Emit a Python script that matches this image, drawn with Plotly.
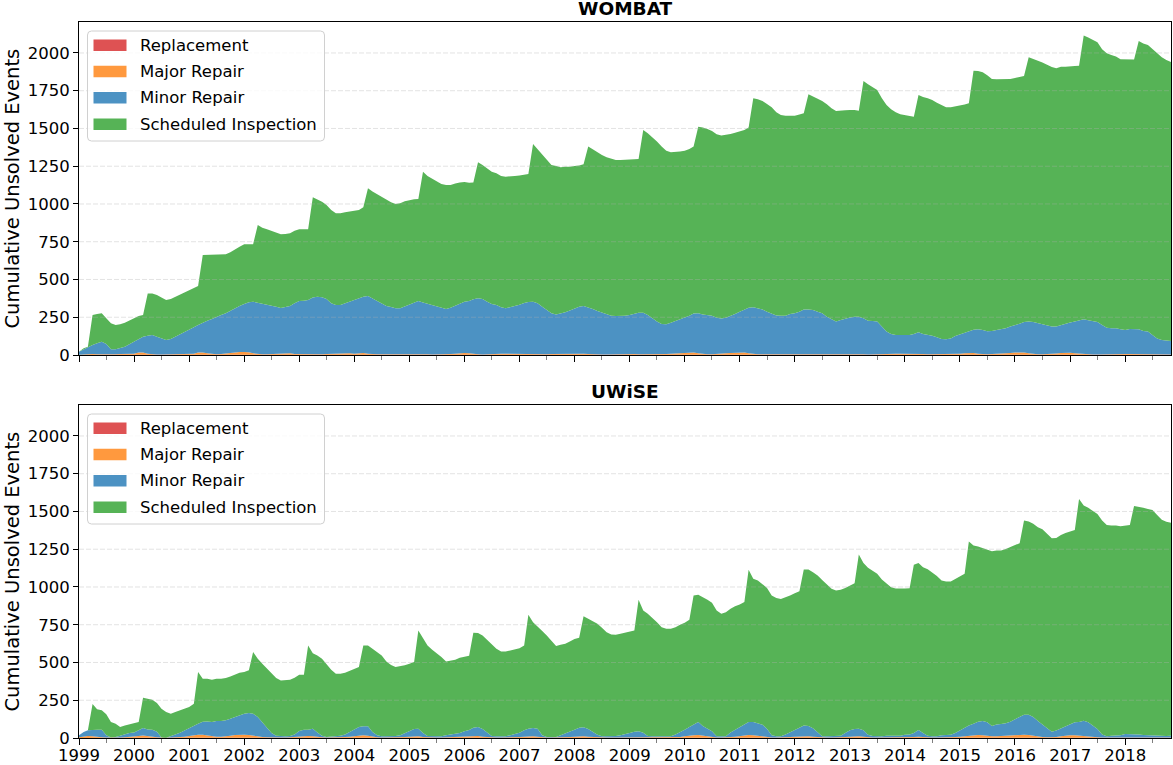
import pandas as pd
import plotly.graph_objects as go
from plotly.subplots import make_subplots

# ---------------- data (monthly, Jan 1999 .. Nov 2018) ----------------
months = pd.date_range("1999-01-01", periods=239, freq="MS")

series_names = ["Replacement", "Major Repair", "Minor Repair", "Scheduled Inspection"]
series_colors = ["#de5253", "#ff993e", "#4c92c3", "#56b356"]
chart_titles = ["WOMBAT", "UWiSE"]
y_label = "Cumulative Unsolved Events"
y_ticks = [0, 250, 500, 750, 1000, 1250, 1500, 1750, 2000]

# WOMBAT: total of all events (top of the stack)
wombat_total = [
    22, 44, 55, 265, 272, 276, 243, 210, 199, 203, 214, 227,
    243, 258, 265, 408, 408, 397, 380, 364, 371, 386, 397, 413,
    430, 446, 457, 662, 662, 662, 662, 662, 667, 680, 700, 717,
    733, 733, 733, 861, 843, 832, 821, 812, 799, 801, 806, 823,
    832, 832, 832, 1044, 1031, 1015, 993, 960, 938, 938, 945, 949,
    954, 960, 978, 1104, 1082, 1064, 1049, 1027, 1011, 1000, 1005, 1018,
    1026, 1031, 1033, 1214, 1185, 1166, 1148, 1132, 1126, 1126, 1135, 1143,
    1146, 1141, 1143, 1276, 1258, 1236, 1214, 1203, 1185, 1181, 1181, 1185,
    1188, 1194, 1199, 1397, 1362, 1325, 1291, 1258, 1252, 1243, 1247, 1247,
    1252, 1254, 1263, 1380, 1362, 1342, 1325, 1309, 1300, 1291, 1291, 1291,
    1291, 1296, 1298, 1490, 1468, 1442, 1413, 1380, 1353, 1342, 1342, 1347,
    1353, 1364, 1380, 1512, 1506, 1497, 1483, 1461, 1453, 1457, 1464, 1472,
    1479, 1490, 1506, 1700, 1693, 1682, 1662, 1640, 1608, 1589, 1585, 1583,
    1585, 1592, 1600, 1726, 1711, 1695, 1682, 1660, 1634, 1616, 1616, 1620,
    1623, 1623, 1618, 1815, 1792, 1773, 1755, 1700, 1656, 1627, 1607, 1594,
    1587, 1583, 1578, 1722, 1708, 1700, 1689, 1671, 1653, 1640, 1640, 1645,
    1651, 1658, 1667, 1883, 1881, 1872, 1852, 1828, 1826, 1826, 1826, 1828,
    1834, 1839, 1848, 1971, 1962, 1949, 1936, 1921, 1907, 1898, 1909, 1909,
    1914, 1914, 1916, 2115, 2102, 2086, 2071, 2024, 1998, 1987, 1976, 1958,
    1958, 1958, 1956, 2079, 2062, 2053, 2026, 1998, 1971, 1954, 1940,
]
# WOMBAT: replacement + major + minor repairs (top of the blue layer)
wombat_repairs = [
    22, 38, 55, 66, 77, 88, 73, 38, 38, 44, 55, 71,
    88, 110, 121, 128, 132, 121, 110, 99, 106, 121, 132, 148,
    166, 183, 199, 216, 227, 238, 254, 265, 276, 294, 309, 325,
    338, 349, 353, 347, 338, 331, 327, 320, 311, 320, 325, 342,
    358, 360, 364, 380, 386, 382, 371, 342, 331, 331, 342, 353,
    364, 375, 386, 391, 375, 358, 342, 325, 318, 309, 309, 320,
    333, 347, 358, 347, 338, 331, 320, 311, 305, 313, 327, 342,
    353, 358, 369, 375, 371, 353, 338, 331, 316, 309, 316, 325,
    333, 344, 351, 353, 342, 320, 298, 276, 269, 274, 283, 294,
    307, 320, 325, 316, 305, 291, 280, 269, 260, 258, 258, 260,
    265, 272, 280, 280, 265, 243, 221, 205, 203, 214, 225, 238,
    249, 260, 274, 276, 269, 265, 260, 247, 241, 247, 258, 272,
    287, 302, 313, 316, 309, 302, 287, 272, 262, 260, 260, 272,
    276, 287, 302, 302, 298, 287, 276, 254, 236, 221, 232, 241,
    249, 254, 254, 243, 227, 225, 221, 188, 155, 139, 132, 132,
    132, 132, 139, 150, 139, 135, 128, 117, 106, 104, 110, 126,
    137, 148, 159, 168, 170, 166, 157, 159, 166, 170, 177, 188,
    196, 207, 218, 221, 218, 210, 201, 194, 188, 188, 199, 210,
    216, 221, 227, 236, 230, 225, 218, 199, 181, 177, 177, 170,
    166, 172, 172, 170, 159, 155, 132, 110, 99, 95, 93,
]
wombat_major = [
    2, 4, 5, 5, 4, 3, 3, 3, 4, 5, 5, 6,
    8, 14, 15, 8, 4, 3, 3, 4, 5, 5, 6, 7,
    5, 8, 14, 15, 10, 5, 4, 6, 10, 14, 16, 18,
    18, 16, 10, 5, 4, 4, 5, 6, 8, 12, 10, 6,
    5, 6, 5, 4, 4, 4, 5, 6, 8, 10, 12, 10,
    8, 10, 12, 8, 5, 4, 4, 4, 5, 6, 6, 5,
    6, 8, 8, 6, 4, 3, 3, 4, 5, 6, 8, 10,
    12, 10, 6, 4, 3, 3, 4, 5, 7, 8, 7, 6,
    5, 4, 4, 3, 3, 3, 4, 5, 6, 6, 6, 6,
    7, 8, 8, 6, 4, 3, 3, 3, 4, 5, 5, 6,
    6, 5, 4, 4, 3, 3, 4, 5, 6, 8, 10, 12,
    14, 16, 14, 10, 6, 4, 4, 5, 8, 10, 12, 14,
    16, 14, 10, 6, 4, 4, 4, 5, 6, 6, 6, 6,
    6, 8, 8, 6, 4, 4, 4, 5, 6, 7, 8, 9,
    9, 8, 6, 4, 3, 3, 3, 4, 5, 6, 7, 8,
    8, 8, 10, 9, 6, 4, 4, 4, 5, 6, 6, 7,
    8, 10, 12, 12, 8, 5, 4, 5, 6, 8, 10, 12,
    14, 16, 15, 10, 6, 4, 4, 5, 7, 9, 12, 13,
    13, 11, 8, 5, 4, 3, 3, 4, 5, 5, 5, 5,
    5, 5, 5, 4, 4, 3, 3, 3, 3, 3, 3,
]
wombat_replacement = [
    0, 1, 1, 1, 1, 1, 1, 1, 1, 1, 1, 1,
    1, 2, 2, 1, 1, 1, 1, 1, 1, 1, 1, 1,
    1, 1, 2, 2, 1, 1, 1, 1, 1, 2, 2, 2,
    2, 2, 1, 1, 1, 1, 1, 1, 1, 1, 1, 1,
    1, 1, 1, 1, 1, 1, 1, 1, 1, 1, 2, 1,
    1, 1, 2, 1, 1, 1, 1, 1, 1, 1, 1, 1,
    1, 1, 1, 1, 1, 1, 1, 1, 1, 1, 1, 1,
    2, 1, 1, 1, 1, 1, 1, 1, 1, 1, 1, 1,
    1, 1, 1, 1, 1, 1, 1, 1, 1, 1, 1, 1,
    1, 1, 1, 1, 1, 1, 1, 1, 1, 1, 1, 1,
    1, 1, 1, 1, 1, 1, 1, 1, 1, 1, 1, 2,
    2, 2, 2, 1, 1, 1, 1, 1, 1, 1, 2, 2,
    2, 2, 1, 1, 1, 1, 1, 1, 1, 1, 1, 1,
    1, 1, 1, 1, 1, 1, 1, 1, 1, 1, 1, 1,
    1, 1, 1, 1, 1, 1, 1, 1, 1, 1, 1, 1,
    1, 1, 1, 1, 1, 1, 1, 1, 1, 1, 1, 1,
    1, 1, 2, 2, 1, 1, 1, 1, 1, 1, 1, 2,
    2, 2, 2, 1, 1, 1, 1, 1, 1, 1, 2, 2,
    2, 1, 1, 1, 1, 1, 1, 1, 1, 1, 1, 1,
    1, 1, 1, 1, 1, 1, 1, 1, 1, 1, 1,
]

# UWiSE
uwise_total = [
    18, 35, 51, 225, 190, 183, 157, 106, 95, 73, 82, 90,
    95, 106, 267, 260, 254, 232, 194, 172, 161, 172, 183, 194,
    205, 227, 437, 392, 392, 386, 392, 392, 397, 408, 421, 432,
    437, 448, 569, 525, 492, 459, 426, 397, 381, 381, 386, 399,
    419, 419, 613, 562, 547, 525, 492, 452, 426, 426, 432, 443,
    456, 470, 613, 613, 591, 569, 547, 507, 483, 470, 474, 481,
    492, 503, 712, 657, 613, 584, 562, 536, 507, 514, 518, 531,
    540, 545, 697, 695, 679, 650, 617, 591, 573, 573, 580, 587,
    595, 613, 816, 767, 741, 708, 679, 646, 609, 617, 624, 639,
    655, 664, 807, 789, 774, 756, 730, 701, 686, 684, 690, 697,
    706, 712, 915, 845, 822, 796, 767, 734, 723, 723, 734, 750,
    763, 783, 944, 948, 933, 915, 895, 845, 822, 833, 856, 873,
    884, 900, 1114, 1054, 1043, 1021, 994, 944, 927, 920, 930, 944,
    959, 972, 1116, 1116, 1098, 1076, 1047, 1017, 988, 977, 981, 994,
    1010, 1025, 1215, 1158, 1127, 1105, 1087, 1050, 1021, 999, 990, 988,
    990, 992, 1147, 1158, 1131, 1118, 1098, 1072, 1043, 1036, 1036, 1054,
    1069, 1087, 1301, 1275, 1268, 1259, 1246, 1237, 1241, 1241, 1252, 1263,
    1279, 1290, 1440, 1433, 1418, 1396, 1382, 1351, 1323, 1325, 1345, 1358,
    1369, 1378, 1583, 1539, 1524, 1506, 1484, 1440, 1411, 1407, 1407, 1402,
    1407, 1411, 1537, 1532, 1525, 1516, 1510, 1477, 1445, 1432, 1425,
]
uwise_repairs = [
    18, 40, 51, 55, 55, 55, 18, 4, 7, 15, 26, 33,
    37, 51, 66, 57, 55, 42, 4, 2, 11, 24, 35, 51,
    66, 82, 95, 108, 110, 106, 112, 112, 117, 128, 139, 152,
    161, 165, 161, 139, 106, 68, 33, 15, 11, 11, 13, 24,
    46, 55, 55, 62, 37, 15, 7, 9, 11, 15, 24, 40,
    60, 73, 77, 77, 40, 18, 11, 11, 11, 13, 18, 33,
    46, 60, 62, 33, 13, 11, 11, 11, 18, 22, 26, 33,
    44, 53, 68, 73, 60, 33, 13, 11, 11, 11, 18, 26,
    35, 51, 62, 66, 62, 18, 7, 7, 7, 18, 29, 40,
    55, 68, 71, 60, 40, 22, 11, 11, 11, 13, 18, 24,
    33, 42, 44, 35, 13, 11, 11, 11, 11, 11, 24, 37,
    55, 73, 88, 106, 79, 62, 44, 11, 11, 11, 37, 55,
    73, 90, 106, 106, 99, 88, 62, 18, 11, 11, 24, 37,
    51, 68, 82, 79, 64, 40, 11, 11, 11, 11, 15, 33,
    51, 60, 62, 51, 22, 13, 11, 11, 15, 15, 11, 15,
    22, 24, 33, 53, 33, 15, 11, 11, 18, 22, 22, 33,
    51, 66, 82, 95, 108, 112, 104, 79, 90, 93, 97, 108,
    123, 137, 154, 154, 139, 112, 90, 68, 42, 49, 64, 77,
    93, 104, 106, 115, 104, 84, 60, 24, 11, 15, 18, 18,
    26, 26, 24, 24, 20, 18, 18, 15, 11, 13, 15,
]
uwise_major = [
    5, 10, 12, 10, 6, 4, 3, 2, 2, 3, 4, 5,
    6, 12, 14, 10, 6, 4, 2, 1, 3, 4, 5, 8,
    12, 16, 20, 20, 16, 10, 8, 8, 10, 14, 18, 20,
    20, 18, 14, 10, 6, 4, 3, 3, 3, 3, 4, 6,
    10, 12, 12, 10, 6, 4, 3, 3, 3, 4, 5, 8,
    12, 15, 16, 14, 8, 4, 3, 3, 3, 3, 4, 5,
    8, 10, 10, 6, 4, 3, 3, 3, 4, 4, 5, 6,
    8, 10, 12, 12, 8, 5, 3, 3, 3, 3, 4, 5,
    6, 8, 10, 10, 8, 4, 2, 2, 2, 3, 4, 5,
    8, 10, 10, 8, 6, 4, 3, 3, 3, 3, 3, 4,
    5, 6, 6, 5, 3, 3, 3, 3, 3, 3, 4, 6,
    10, 14, 16, 18, 14, 10, 6, 3, 3, 3, 5, 8,
    12, 16, 18, 18, 14, 10, 6, 3, 3, 3, 4, 5,
    8, 10, 12, 10, 8, 5, 3, 3, 3, 3, 4, 6,
    8, 10, 10, 8, 4, 3, 3, 3, 3, 3, 3, 3,
    4, 4, 6, 8, 5, 3, 3, 3, 3, 4, 4, 6,
    8, 12, 15, 18, 18, 16, 12, 10, 10, 12, 14, 16,
    18, 20, 20, 18, 14, 10, 6, 4, 4, 6, 10, 14,
    16, 16, 14, 12, 8, 5, 4, 3, 3, 3, 3, 3,
    4, 4, 4, 4, 3, 3, 3, 3, 3, 3, 3,
]
uwise_replacement = [
    0, 1, 1, 1, 1, 1, 1, 1, 1, 1, 1, 1,
    1, 1, 2, 1, 1, 1, 1, 1, 1, 1, 1, 1,
    1, 2, 2, 2, 1, 1, 1, 1, 1, 1, 2, 2,
    2, 2, 1, 1, 1, 1, 1, 1, 1, 1, 1, 1,
    1, 1, 1, 1, 1, 1, 1, 1, 1, 1, 1, 1,
    1, 2, 2, 1, 1, 1, 1, 1, 1, 1, 1, 1,
    1, 1, 1, 1, 1, 1, 1, 1, 1, 1, 1, 1,
    1, 1, 1, 1, 1, 1, 1, 1, 1, 1, 1, 1,
    1, 1, 1, 1, 1, 1, 1, 1, 1, 1, 1, 1,
    1, 1, 1, 1, 1, 1, 1, 1, 1, 1, 1, 1,
    1, 1, 1, 1, 1, 1, 1, 1, 1, 1, 1, 1,
    1, 2, 2, 2, 1, 1, 1, 1, 1, 1, 1, 1,
    2, 2, 2, 1, 1, 1, 1, 1, 1, 1, 1, 1,
    1, 1, 1, 1, 1, 1, 1, 1, 1, 1, 1, 1,
    1, 1, 1, 1, 1, 1, 1, 1, 1, 1, 1, 1,
    1, 1, 1, 1, 1, 1, 1, 1, 1, 1, 1, 1,
    1, 1, 2, 2, 2, 2, 1, 1, 1, 1, 1, 2,
    2, 2, 2, 2, 1, 1, 1, 1, 1, 1, 1, 1,
    2, 2, 1, 1, 1, 1, 1, 1, 1, 1, 1, 1,
    1, 1, 1, 1, 1, 1, 1, 1, 1, 1, 1,
]


def components(total, repairs, major, replacement):
    minor = [max(0, r - mj - rp) for r, mj, rp in zip(repairs, major, replacement)]
    inspection = [max(0, t - r) for t, r in zip(total, repairs)]
    return [replacement, major, minor, inspection]


charts = [
    components(wombat_total, wombat_repairs, wombat_major, wombat_replacement),
    components(uwise_total, uwise_repairs, uwise_major, uwise_replacement),
]

# ---------------- figure ----------------
FONT = "DejaVu Sans"
W, H = 1173, 765
ML, MR, MT, MB = 79, 2, 22, 27
plot_h = H - MT - MB
gap = 50

fig = make_subplots(rows=2, cols=1, shared_xaxes=True,
                    vertical_spacing=gap / plot_h)

for i, comps in enumerate(charts):
    for name, color, vals in zip(series_names, series_colors, comps):
        fig.add_trace(go.Scatter(
            x=months, y=vals, name=name, mode="lines",
            stackgroup=f"s{i}", line=dict(width=0, color=color),
            fillcolor=color, showlegend=False,
        ), row=i + 1, col=1)

axis_common = dict(showline=True, linecolor="black", linewidth=1, mirror=True,
                   ticks="outside", tickcolor="black", tickwidth=1,
                   tickfont=dict(family=FONT, size=16.5, color="black"),
                   showgrid=False, zeroline=False, automargin=False)

x_range = [months[0], months[-1]]
for r in (1, 2):
    fig.update_xaxes(row=r, col=1, type="date", range=x_range,
                     tick0="1999-01-01", dtick="M12", tickformat="%Y", ticklen=6,
                     ticklabelstandoff=-4,
                     minor=dict(dtick="M6", tick0="1999-01-01", ticks="outside",
                                ticklen=4, tickcolor="#7f7f7f", tickwidth=1),
                     showticklabels=(r == 2), **axis_common)
    fig.update_yaxes(row=r, col=1, range=[0, 2205], tickvals=y_ticks,
                     ticklen=5, **axis_common)

# dashed horizontal grid drawn above the areas
for yref in ("y", "y2"):
    for v in y_ticks[1:]:
        fig.add_shape(type="line", xref=yref.replace("y", "x") + " domain",
                      yref=yref, x0=0, x1=1, y0=v, y1=v, layer="above",
                      line=dict(color="rgba(176,176,176,0.35)", width=1, dash="5px,2px"))

dom_h = (1 - gap / plot_h) / 2
tops = [1.0, dom_h]
centers = [1 - dom_h / 2, dom_h / 2]
for title, top, c in zip(chart_titles, tops, centers):
    fig.add_annotation(text=f"<b>{title}</b>", xref="paper", yref="paper",
                       x=0.5, y=top, xanchor="center", yanchor="bottom", yshift=1,
                       showarrow=False, font=dict(family=FONT, size=18.5, color="black"))
    fig.add_annotation(text=y_label, xref="paper", yref="paper", x=0, y=c,
                       xanchor="center", yanchor="middle", xshift=-67, textangle=-90,
                       showarrow=False, font=dict(family=FONT, size=19.5, color="black"))

# legend box (matplotlib style) drawn in pixel units from each plot's top-left
BOX_L, BOX_R, BOX_T, BOX_B, RAD = 8.5, 245.5, -9, -119, 4
PATCH_L, PATCH_R, PATCH_H = 14.5, 47.5, 11.5
ROW_Y = [-23.3, -49.6, -75.8, -102.2]
TEXT_X = 59
box_path = (f"M{BOX_L + RAD},{BOX_T} L{BOX_R - RAD},{BOX_T} Q{BOX_R},{BOX_T} {BOX_R},{BOX_T - RAD} "
            f"L{BOX_R},{BOX_B + RAD} Q{BOX_R},{BOX_B} {BOX_R - RAD},{BOX_B} "
            f"L{BOX_L + RAD},{BOX_B} Q{BOX_L},{BOX_B} {BOX_L},{BOX_B + RAD} "
            f"L{BOX_L},{BOX_T - RAD} Q{BOX_L},{BOX_T} {BOX_L + RAD},{BOX_T} Z")
for xr, yr in (("x", "y"), ("x2", "y2")):
    fig.add_shape(type="path", path=box_path, xref=f"{xr} domain", yref=f"{yr} domain",
                  xsizemode="pixel", ysizemode="pixel", xanchor=0, yanchor=1,
                  fillcolor="rgba(255,255,255,0.8)", line=dict(color="#d0d0d0", width=1),
                  layer="above")
    for name, color, ry in zip(series_names, series_colors, ROW_Y):
        fig.add_shape(type="rect", xref=f"{xr} domain", yref=f"{yr} domain",
                      xsizemode="pixel", ysizemode="pixel", xanchor=0, yanchor=1,
                      x0=PATCH_L, x1=PATCH_R, y0=ry - PATCH_H / 2, y1=ry + PATCH_H / 2,
                      fillcolor=color, line=dict(width=0), layer="above")
        fig.add_annotation(text=name, xref=f"{xr} domain", yref=f"{yr} domain",
                           x=0, y=1, xshift=TEXT_X, yshift=ry, xanchor="left",
                           yanchor="middle", showarrow=False,
                           font=dict(family=FONT, size=16.5, color="black"))

fig.update_layout(
    width=W, height=H,
    margin=dict(l=ML, r=MR, t=MT, b=MB, autoexpand=False),
    paper_bgcolor="white", plot_bgcolor="white",
    font=dict(family=FONT, size=16.5, color="black"),
    showlegend=False,
)

fig.write_html("out.html", config={"displayModeBar": False},
               post_script="document.body.style.margin='0px';")
